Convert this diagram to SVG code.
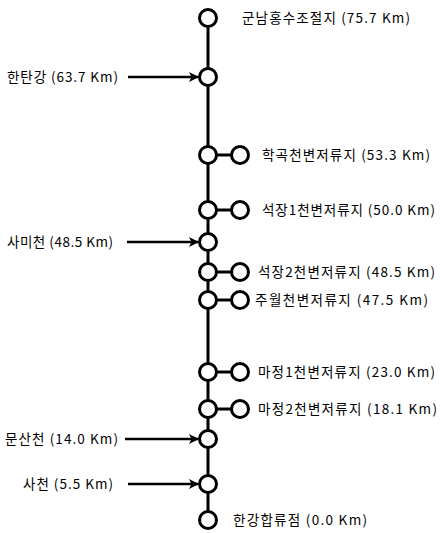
<svg xmlns="http://www.w3.org/2000/svg" width="440" height="533" viewBox="0 0 440 533">
<defs>
<style>
.n{fill:#fff;stroke:#000;stroke-width:3}
.c{stroke:#000;stroke-width:3;fill:none}
.a{stroke:#000;stroke-width:2.5;fill:none}
text{font-family:"Noto Sans CJK KR","Liberation Sans",sans-serif;font-size:13.5px;fill:#000}
</style>
<marker id="ah" viewBox="0 0 10 10" refX="9" refY="5" markerWidth="4" markerHeight="4.4" orient="auto" markerUnits="strokeWidth">
<path d="M0,0 L10,5 L0,10 L2.5,5 Z" fill="#000"/>
</marker>
</defs>
<g id="connectors">
<line class="c" x1="208" y1="18" x2="208" y2="520"/>
<line class="c" x1="208" y1="155" x2="240" y2="155"/>
<line class="c" x1="208" y1="210" x2="240" y2="210"/>
<line class="c" x1="208" y1="272" x2="240" y2="272"/>
<line class="c" x1="208" y1="300" x2="240" y2="300"/>
<line class="c" x1="208" y1="372" x2="240" y2="372"/>
<line class="c" x1="208" y1="409" x2="240" y2="409"/>
<line class="a" x1="128" y1="77" x2="198" y2="77" marker-end="url(#ah)"/>
<line class="a" x1="127" y1="242" x2="198" y2="242" marker-end="url(#ah)"/>
<line class="a" x1="125" y1="439" x2="198" y2="439" marker-end="url(#ah)"/>
<line class="a" x1="128" y1="484" x2="198" y2="484" marker-end="url(#ah)"/>
</g>
<g id="n1"><circle class="n" cx="208" cy="18" r="8.5"/><text x="242" y="23" textLength="168">군남홍수조절지 (75.7 Km)</text></g>
<g id="n2"><circle class="n" cx="208" cy="77" r="8.5"/><text x="7" y="82" textLength="111">한탄강 (63.7 Km)</text></g>
<g id="n3"><circle class="n" cx="208" cy="155" r="8.5"/><circle class="n" cx="240" cy="155" r="8.5"/><text x="262" y="160" textLength="168">학곡천변저류지 (53.3 Km)</text></g>
<g id="n4"><circle class="n" cx="208" cy="210" r="8.5"/><circle class="n" cx="240" cy="210" r="8.5"/><text x="262" y="215" textLength="173">석장1천변저류지 (50.0 Km)</text></g>
<g id="n5"><circle class="n" cx="208" cy="242" r="8.5"/><text x="7" y="247" textLength="106">사미천 (48.5 Km)</text></g>
<g id="n6"><circle class="n" cx="208" cy="272" r="8.5"/><circle class="n" cx="240" cy="272" r="8.5"/><text x="258" y="277" textLength="177">석장2천변저류지 (48.5 Km)</text></g>
<g id="n7"><circle class="n" cx="208" cy="300" r="8.5"/><circle class="n" cx="240" cy="300" r="8.5"/><text x="255" y="305" textLength="173">주월천변저류지 (47.5 Km)</text></g>
<g id="n8"><circle class="n" cx="208" cy="372" r="8.5"/><circle class="n" cx="240" cy="372" r="8.5"/><text x="258" y="377" textLength="177">마정1천변저류지 (23.0 Km)</text></g>
<g id="n9"><circle class="n" cx="208" cy="409" r="8.5"/><circle class="n" cx="240" cy="409" r="8.5"/><text x="258" y="414" textLength="179">마정2천변저류지 (18.1 Km)</text></g>
<g id="n10"><circle class="n" cx="208" cy="439" r="8.5"/><text x="5" y="444" textLength="113">문산천 (14.0 Km)</text></g>
<g id="n11"><circle class="n" cx="208" cy="484" r="8.5"/><text x="23" y="489" textLength="90">사천 (5.5 Km)</text></g>
<g id="n12"><circle class="n" cx="208" cy="520" r="8.5"/><text x="233" y="525" textLength="134">한강합류점 (0.0 Km)</text></g>
</svg>
